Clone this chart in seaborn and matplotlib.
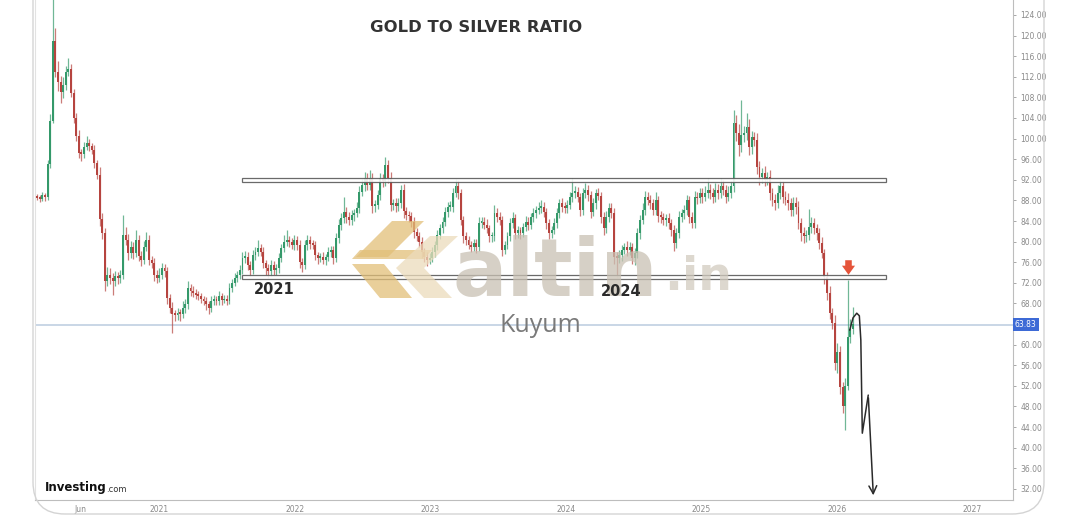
import numpy as np
import pandas as pd
import matplotlib
matplotlib.use('Agg')
import matplotlib.pyplot as plt
import matplotlib.dates as mdates
from matplotlib.patches import Polygon, Rectangle, FancyBboxPatch
from matplotlib.path import Path
from matplotlib.transforms import IdentityTransform
import seaborn as sns

# weekly candles (one row = one quarter of weeks)
first_week = '2020-02-07'
first_open = 88.8
closes = [
    88.5, 88.3, 89.0, 88.6, 95.0, 103.5, 119.0, 113.0, 111.0, 109.0, 110.5, 113.0, 113.5,
    108.8, 104.0, 100.5, 97.2, 97.0, 98.4, 99.2, 98.5, 97.8, 95.3, 93.0, 84.3, 81.6,
    72.4, 73.6, 73.0, 72.4, 73.3, 73.0, 73.6, 81.3, 80.4, 77.8, 79.0, 77.8, 80.4,
    77.2, 76.5, 79.0, 80.4, 76.5, 75.9, 73.6, 73.0, 73.6, 74.8, 74.2, 69.1, 67.2,
    66.0, 65.7, 66.2, 65.9, 67.2, 67.8, 71.0, 70.4, 70.1, 69.7, 69.4, 68.8, 68.5,
    67.8, 67.2, 68.5, 68.8, 68.4, 69.5, 68.6, 68.9, 68.5, 71.0, 72.0, 73.0, 73.6,
    74.5, 76.8, 77.1, 75.5, 74.5, 77.4, 78.0, 78.7, 78.0, 75.8, 74.8, 74.2, 75.5,
    74.5, 74.8, 76.8, 78.7, 80.0, 80.3, 80.0, 79.3, 80.3, 79.3, 76.1, 75.5, 79.3,
    80.3, 79.6, 79.3, 77.4, 76.8, 77.1, 76.5, 77.0, 78.0, 78.4, 76.8, 80.7, 83.2,
    84.5, 85.8, 84.8, 84.2, 85.1, 85.5, 86.5, 89.7, 91.0, 92.3, 91.0, 92.3, 86.9,
    87.2, 89.1, 92.3, 91.7, 94.8, 92.3, 87.2, 87.5, 86.9, 87.5, 90.1, 85.9, 85.2,
    84.9, 83.9, 81.9, 81.0, 80.0, 78.0, 77.1, 76.5, 76.8, 78.0, 79.3, 81.3, 82.6,
    83.9, 85.8, 86.8, 86.8, 89.4, 90.7, 89.4, 84.2, 81.0, 80.3, 79.4, 79.0, 79.7,
    79.0, 83.6, 83.9, 83.3, 82.6, 81.0, 81.0, 85.5, 84.8, 84.2, 78.4, 79.4, 81.0,
    83.6, 84.5, 81.6, 82.2, 81.6, 82.9, 83.9, 83.3, 84.8, 85.5, 86.1, 86.5, 86.8,
    85.8, 83.6, 81.6, 82.2, 83.6, 85.5, 87.4, 86.8, 86.5, 87.1, 88.7, 89.4, 89.7,
    88.7, 86.1, 89.4, 90.0, 89.0, 85.8, 87.4, 89.4, 88.8, 84.8, 82.6, 84.8, 86.5,
    85.5, 77.1, 76.8, 77.4, 78.4, 79.0, 78.4, 79.0, 76.8, 77.8, 81.6, 84.2, 86.1,
    88.7, 88.1, 87.4, 86.1, 88.0, 85.0, 84.8, 84.2, 84.5, 83.6, 82.3, 79.7, 81.6,
    84.8, 85.5, 86.1, 88.1, 84.8, 83.6, 88.7, 88.4, 89.4, 88.7, 89.4, 90.0, 89.4,
    88.7, 90.0, 89.4, 90.7, 90.0, 88.7, 89.4, 90.7, 103.0, 101.0, 98.8, 100.7, 101.0,
    102.3, 98.4, 100.3, 99.7, 94.5, 92.5, 93.3, 92.0, 92.5, 89.4, 88.1, 87.5, 89.4,
    90.7, 88.7, 88.1, 87.5, 86.1, 87.5, 86.8, 83.6, 81.6, 81.0, 81.3, 82.9, 83.6,
    82.6, 81.6, 79.7, 77.8, 73.1, 70.0, 66.1, 64.2, 56.5, 58.5, 51.8, 48.0, 52.0,
    61.5, 63.0, 64.0,
]
wick_up = [
    0.4, 0.5, 0.6, 0.5, 0.9, 1.2, 8.5, 2.5, 2.0, 1.2, 1.5, 1.0, 2.1,
    1.0, 0.8, 1.0, 1.2, 0.8, 1.0, 1.3, 0.8, 0.7, 0.9, 0.6, 1.5, 1.2,
    1.0, 1.5, 1.2, 0.9, 1.0, 0.8, 0.9, 3.9, 1.6, 1.0, 1.2, 0.9, 1.9,
    0.8, 1.0, 1.2, 1.4, 0.8, 0.7, 0.9, 0.8, 1.2, 1.0, 0.9, 0.8, 0.7,
    1.0, 0.8, 0.9, 0.7, 1.2, 1.0, 1.3, 0.8, 0.9, 0.7, 0.8, 0.6, 0.7,
    0.8, 0.6, 0.9, 0.8, 0.7, 0.9, 0.6, 0.8, 0.7, 0.9, 0.8, 0.9, 0.7,
    0.9, 1.2, 1.0, 0.8, 0.7, 0.9, 1.0, 1.6, 0.8, 0.9, 0.7, 0.8, 0.9,
    0.7, 0.8, 1.0, 0.9, 1.2, 1.9, 0.8, 0.7, 0.9, 0.8, 1.0, 0.8, 1.1,
    1.0, 0.8, 0.7, 0.8, 0.6, 0.7, 0.8, 0.6, 0.9, 0.8, 0.7, 1.0, 1.2,
    1.1, 2.8, 1.0, 0.9, 1.0, 0.8, 1.1, 1.0, 1.2, 1.3, 1.0, 1.6, 1.0,
    0.9, 1.0, 1.1, 0.9, 1.6, 1.0, 1.2, 0.8, 0.9, 1.0, 0.8, 1.0, 0.8,
    0.7, 0.8, 0.9, 0.7, 0.8, 0.9, 0.7, 0.8, 0.9, 1.0, 0.8, 1.0, 0.9,
    0.8, 1.0, 0.9, 1.1, 1.0, 1.5, 1.2, 0.9, 0.8, 0.9, 0.7, 0.8, 0.9,
    0.8, 1.1, 0.9, 0.8, 1.0, 0.7, 0.8, 1.6, 1.0, 0.9, 0.8, 0.7, 0.9,
    1.0, 1.2, 0.8, 0.9, 0.7, 0.8, 1.0, 0.9, 0.8, 1.0, 0.9, 1.1, 1.3,
    0.9, 0.8, 0.7, 0.9, 1.0, 1.1, 0.9, 1.0, 0.8, 0.9, 1.0, 2.9, 1.0,
    0.9, 0.8, 1.0, 1.3, 0.9, 0.8, 1.0, 0.9, 1.0, 0.8, 0.9, 1.2, 1.0,
    0.9, 1.0, 0.8, 0.9, 1.0, 0.8, 1.1, 0.9, 0.8, 1.0, 1.1, 1.0, 1.3,
    1.2, 0.9, 1.0, 0.8, 1.6, 0.9, 1.0, 0.8, 0.9, 1.0, 0.8, 0.9, 1.0,
    1.2, 0.9, 1.0, 1.0, 0.8, 0.9, 1.2, 1.0, 1.1, 1.0, 1.3, 2.3, 1.2,
    1.0, 1.4, 1.2, 1.6, 1.2, 1.0, 1.3, 1.0, 2.5, 1.6, 1.8, 6.8, 1.5,
    2.7, 1.5, 1.2, 1.0, 1.4, 1.2, 1.0, 1.3, 1.1, 1.4, 1.0, 1.2, 1.6,
    1.3, 1.0, 1.2, 1.4, 1.0, 1.2, 1.1, 1.0, 0.9, 1.2, 1.0, 3.5, 1.2,
    1.0, 0.9, 1.0, 1.2, 0.8, 1.0, 1.3, 1.0, 1.5, 1.8, 1.2, 1.0, 1.5,
    11.1, 2.0, 3.3,
]
wick_dn = [
    0.5, 0.6, 0.4, 0.8, 0.6, 0.8, 0.5, 1.0, 1.8, 2.0, 1.2, 1.0, 0.9,
    0.8, 1.0, 0.9, 1.0, 1.4, 0.8, 0.7, 0.9, 0.8, 1.0, 0.8, 1.2, 1.0,
    2.0, 1.0, 1.2, 2.7, 1.0, 1.2, 1.0, 0.8, 1.0, 1.4, 0.9, 1.2, 0.8,
    1.0, 1.2, 0.8, 0.9, 1.0, 1.1, 1.2, 1.0, 0.8, 0.9, 1.0, 1.2, 1.0,
    3.8, 1.2, 1.0, 1.3, 0.8, 1.0, 0.9, 1.0, 0.8, 0.9, 0.7, 0.8, 0.9,
    1.0, 1.2, 0.8, 0.9, 0.7, 0.8, 0.9, 0.6, 0.8, 0.7, 0.8, 0.7, 0.9,
    0.8, 0.7, 0.9, 1.0, 1.2, 0.8, 0.9, 0.7, 0.8, 1.0, 1.2, 1.3, 0.8,
    1.0, 0.9, 0.8, 0.7, 0.8, 0.9, 1.0, 0.8, 0.9, 1.0, 1.2, 1.4, 0.8,
    0.9, 1.0, 0.8, 1.0, 1.1, 0.8, 0.9, 1.0, 0.8, 0.9, 1.2, 0.8, 1.0,
    1.0, 0.9, 1.2, 1.0, 0.9, 1.1, 0.8, 1.0, 0.9, 1.1, 1.0, 0.9, 1.4,
    1.2, 0.9, 1.0, 1.1, 0.9, 1.0, 1.3, 1.0, 1.2, 0.9, 1.0, 1.3, 1.0,
    1.1, 1.0, 1.2, 0.9, 1.0, 1.1, 1.0, 1.3, 0.9, 0.8, 0.9, 1.0, 0.8,
    0.9, 0.8, 1.0, 0.9, 1.0, 0.8, 1.1, 1.0, 1.2, 1.0, 0.9, 1.1, 0.8,
    1.2, 0.9, 1.0, 0.8, 0.9, 1.1, 1.0, 0.8, 0.9, 1.0, 1.2, 0.9, 0.8,
    0.9, 1.0, 1.1, 0.9, 1.0, 0.8, 0.9, 1.0, 0.8, 0.9, 1.0, 0.8, 0.9,
    1.0, 1.2, 1.1, 0.9, 0.8, 1.0, 0.9, 1.1, 1.0, 0.9, 0.8, 1.0, 0.9,
    1.0, 1.2, 0.9, 1.0, 1.1, 1.2, 0.9, 1.0, 0.8, 1.1, 1.3, 0.9, 1.0,
    1.0, 1.4, 3.9, 1.0, 1.1, 0.9, 1.2, 1.0, 1.1, 1.3, 0.9, 1.0, 0.8,
    1.0, 0.9, 1.1, 1.0, 0.9, 1.2, 1.1, 1.0, 1.2, 1.1, 1.3, 1.5, 1.0,
    0.9, 1.0, 1.1, 0.9, 1.2, 1.0, 0.9, 1.1, 1.0, 1.2, 0.9, 1.0, 1.1,
    1.2, 1.0, 1.1, 0.9, 1.0, 1.2, 0.9, 1.0, 1.0, 1.5, 2.2, 1.4, 1.3,
    1.2, 1.5, 1.3, 1.2, 1.4, 1.6, 1.2, 1.3, 1.1, 1.4, 1.2, 1.3, 1.0,
    1.1, 1.2, 1.0, 1.3, 1.2, 1.1, 1.4, 1.2, 1.5, 1.3, 1.1, 1.0, 1.2,
    1.1, 1.3, 1.2, 1.0, 1.4, 1.3, 1.2, 1.1, 1.4, 2.0, 1.3, 1.2, 4.6,
    0.8, 1.2, 1.0,
]

# drawn annotations
channel_top = 92.0
channel_bottom = 73.1
channel_start = '2021-08-12'
channel_end = '2026-05-14'
last_price = 63.83
signal_week = '2026-01-30'
signal_level = 75.0
sketch_dates = ['2026-02-04', '2026-02-13', '2026-02-23', '2026-03-02', '2026-03-06',
                '2026-03-10', '2026-03-26', '2026-04-09']
sketch_values = [62.8, 65.2, 66.1, 65.6, 60.9, 42.8, 50.2, 30.2]
y_ticks = [124, 120, 116, 112, 108, 104, 100, 96, 92, 88, 84, 80, 76, 72, 68, 60, 56,
           52, 48, 44, 40, 36, 32]
year_ticks = ['2021', '2022', '2023', '2024', '2025', '2026', '2027']

W, H = 1080, 517
GREEN, RED = '#34996a', '#b6443f'

assert len(closes) == len(wick_up) == len(wick_dn)
dates = pd.date_range(first_week, periods=len(closes), freq='7D')
c = np.array(closes)
o = np.array([first_open] + closes[:-1])
hi = np.maximum(o, c) + np.array(wick_up)
lo = np.minimum(o, c) - np.array(wick_dn)
cols = [GREEN if cc >= oo else RED for oo, cc in zip(o, c)]

sns.set_style('white')
plt.rcParams['font.family'] = ['DejaVu Sans']

fig = plt.figure(figsize=(W / 100, H / 100), dpi=100)
ax = fig.add_axes([35 / W, 1 - 500 / H, 978 / W, 500 / H])

def px(x, y):
    # screen pixels (from top-left) -> figure fraction
    return x / W, 1 - y / H

# candles
ax.vlines(dates, lo, hi, colors=cols, lw=0.9, alpha=0.7, zorder=2)
ax.bar(dates, np.maximum(np.abs(c - o), 0.35), bottom=np.minimum(o, c), width=5.2,
       color=cols, linewidth=0, zorder=3)

# channel boxes
for lvl in (channel_top, channel_bottom):
    x0 = mdates.date2num(pd.Timestamp(channel_start))
    x1 = mdates.date2num(pd.Timestamp(channel_end))
    ax.add_patch(Rectangle((x0, lvl - 0.35), x1 - x0, 0.7, fc='white', ec='#5a5a5a',
                           lw=0.9, alpha=0.9, zorder=4))

# current price line + label
ax.axhline(last_price, color='#c9d6e6', lw=1.4, zorder=1)
ax.text(1.002, last_price, f'{last_price:.2f}', transform=ax.get_yaxis_transform(),
        va='center', ha='left', fontsize=5.5, color='white', clip_on=False,
        bbox=dict(boxstyle='square,pad=0.25', fc='#3d6ad6', ec='none'), zorder=6)

# signal arrow over the spike
arrow_path = Path([(-0.45, 1), (0.45, 1), (0.45, 0.25), (0.9, 0.25), (0, -1),
                   (-0.9, 0.25), (-0.45, 0.25), (-0.45, 1)], closed=True)
ax.scatter([pd.Timestamp(signal_week)], [signal_level], marker=arrow_path, s=110,
           color='#e5543a', linewidths=0, zorder=6)

# hand drawn forecast
sdates = pd.to_datetime(sketch_dates)
sns.lineplot(x=sdates[:-1], y=sketch_values[:-1], ax=ax, color='#2a2a2a', lw=1.1,
             sort=False, zorder=7)
ax.annotate('', xy=(sdates[-1], sketch_values[-1]), xytext=(sdates[-2], sketch_values[-2]),
            arrowprops=dict(arrowstyle='->', color='#2a2a2a', lw=1.1, mutation_scale=14),
            zorder=7)

# axes
ax.set_xlim(pd.Timestamp('2020-02-01'), pd.Timestamp('2027-04-20'))
ax.set_ylim(29.83, 126.91)
ax.set_xlabel('')
ax.set_ylabel('')
ax.yaxis.tick_right()
ax.set_yticks(y_ticks)
ax.set_yticklabels([f'{v:.2f}' for v in y_ticks])
major = [pd.Timestamp('2020-06-01')] + [pd.Timestamp(f'{y}-01-01') for y in year_ticks]
ax.set_xticks(major)
ax.set_xticklabels(['Jun'] + year_ticks)
ax.set_xticks([pd.Timestamp(f'{y}-06-01') for y in range(2021, 2027)], minor=True)
ax.tick_params(axis='both', which='both', labelsize=5.5, labelcolor='#8a8a8a',
               color='#9a9a9a', length=2.5, width=0.6, pad=3)
ax.tick_params(axis='x', which='both', length=2, pad=1.5)
for side in ('left', 'bottom', 'right'):
    ax.spines[side].set_color('#bdbdbd')
    ax.spines[side].set_linewidth(0.8)
ax.spines['top'].set_visible(False)
ax.spines['left'].set_color('#e2e2e2')

# screenshot frame
frame = FancyBboxPatch((33, H - 514), 1011, 600, boxstyle='round,pad=0,rounding_size=32',
                       transform=IdentityTransform(), fc='none', ec='#d4d4d4', lw=1.0)
fig.add_artist(frame)

# titles and labels
fig.text(*px(476, 28), 'GOLD TO SILVER RATIO', ha='center', va='center', fontsize=11.8,
         fontweight='bold', color='#333333')
fig.text(*px(274, 289), '2021', ha='center', va='center', fontsize=10.5,
         fontweight='bold', color='#2b2b2b', zorder=8)
fig.text(*px(621, 291), '2024', ha='center', va='center', fontsize=10.5,
         fontweight='bold', color='#2b2b2b', zorder=8)

# watermark
gold, beige = '#e2bf78', '#ecdcbc'
logo = [
    ([(392, 221), (424, 221), (388, 257), (356, 257)], gold),
    ([(360, 250), (432, 250), (424, 259), (352, 259)], gold),
    ([(352, 264), (384, 264), (412, 298), (380, 298)], gold),
    ([(430, 236), (458, 236), (424, 268), (452, 298), (424, 298), (396, 268)], beige),
]
for pts, col in logo:
    fig.add_artist(Polygon([px(x, y) for x, y in pts], closed=True, fc=col, ec='none',
                           alpha=0.75, transform=fig.transFigure, zorder=5))
fig.text(*px(452, 296), 'altin', ha='left', va='baseline', fontsize=58,
         fontweight='heavy', color='#c9c1b3', alpha=0.75, zorder=5)
fig.text(*px(664, 290), '.in', ha='left', va='baseline', fontsize=34,
         fontweight='heavy', color='#d2cbbf', alpha=0.75, zorder=5)
fig.text(*px(540, 326), 'Kuyum', ha='center', va='center', fontsize=18,
         color='#7a7a7a', family=['Open Sans', 'DejaVu Sans'], zorder=8)

# investing logo
fig.text(*px(45, 488), 'Investing', ha='left', va='center', fontsize=8.5,
         fontweight='heavy', color='#111111')
fig.text(*px(106, 489), '.com', ha='left', va='center', fontsize=6, color='#333333')

fig.savefig('out.png', dpi=100)
